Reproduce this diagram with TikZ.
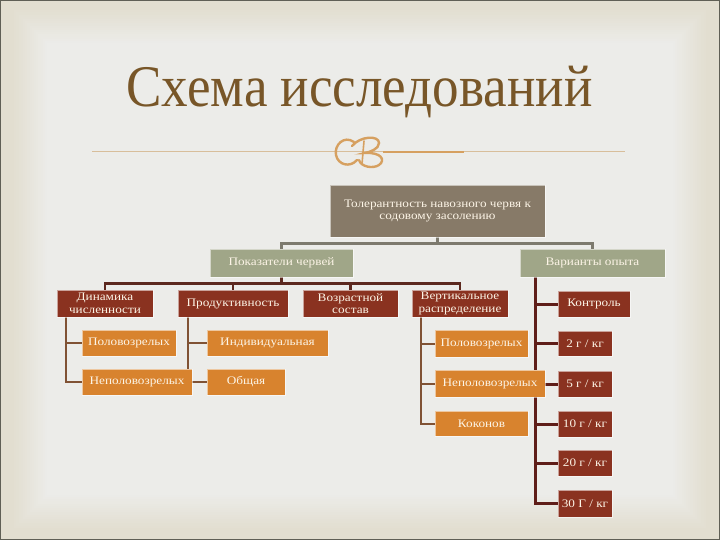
\documentclass[tikz,border=0pt]{standalone}
\usepackage{fontspec}
\usetikzlibrary{calc}
\setmainfont{Liberation Serif}
\newfontfamily\titlefont[FakeStretch=0.9]{Liberation Serif}
\newfontfamily\boxfont[FakeStretch=1.15]{Liberation Serif}
\definecolor{outerbg}{RGB}{226,222,208}
\definecolor{innerbg}{RGB}{236,236,233}
\definecolor{titlecol}{RGB}{120,86,40}
\definecolor{rulecol}{RGB}{216,190,155}
\definecolor{ornacol}{RGB}{214,160,96}
\definecolor{topcol}{RGB}{135,122,104}
\definecolor{sagecol}{RGB}{160,166,136}
\definecolor{redcol}{RGB}{138,50,32}
\definecolor{orcol}{RGB}{216,131,46}
\definecolor{txtcol}{RGB}{252,244,230}
\definecolor{graylink}{RGB}{125,122,110}
\definecolor{darklink}{RGB}{92,40,30}
\definecolor{brlink}{RGB}{128,82,52}
\definecolor{varlink}{RGB}{95,30,25}
\definecolor{framecol}{RGB}{95,95,85}
\pgfdeclarelayer{bgfill}
\pgfdeclarelayer{links}
\pgfsetlayers{bgfill,links,main}
\tikzset{
  box/.style={inner sep=0pt, align=center, text=txtcol,
    font=\boxfont\fontsize{11.5}{12.5}\selectfont,
    draw=white, draw opacity=0.55, line width=0.6pt},
  topbox/.style={box, fill=topcol},
  sagebox/.style={box, fill=sagecol},
  redbox/.style={box, fill=redcol},
  orbox/.style={box, fill=orcol},
  glink/.style={draw=graylink, line width=3pt},
  dlink/.style={draw=darklink, line width=2.5pt},
  blink/.style={draw=brlink, line width=2pt},
  vlink/.style={draw=varlink, line width=3pt},
}
\begin{document}
\begin{tikzpicture}[x=1pt,y=-1pt]
\useasboundingbox (0,0) rectangle (720,540);
\begin{pgfonlayer}{bgfill}
\fill[outerbg] (0,0) rectangle (720,540);
\foreach \i in {1,...,16}{
  \pgfmathsetmacro{\m}{100-\i*6.25}
  \pgfmathsetmacro{\d}{12+\i*2.2}
  \fill[outerbg!\m!innerbg] (\d,\d-4) rectangle (720-\d,540-\d+2);
}
\draw[framecol, line width=1.5pt] (0,0) rectangle (720,540);
\end{pgfonlayer}
% title
\node[anchor=base, text=titlecol, inner sep=0pt] (title) at (359.5,107)
  {\titlefont\fontsize{59}{60}\selectfont Схема исследований};
% rule and ornament
\draw[rulecol, line width=1pt] (92,152) -- (625,152);
\draw[ornacol, line width=2.5pt] (383,152) -- (464,152);
\draw[ornacol, line width=2.4pt, line cap=round]
  (354,142) .. controls (344,135) and (334,145) .. (336,155)
  .. controls (338,165) and (350,168) .. (357,160);
\draw[ornacol, line width=2.4pt, line cap=round]
  (352,146) .. controls (360,136) and (379,135) .. (379,143)
  .. controls (379,149) and (370,152) .. (365,153)
  .. controls (381,152) and (386,160) .. (379,165)
  .. controls (373,169) and (361,167) .. (359,160);
\draw[ornacol, line width=1.6pt, line cap=round] (364,141) -- (362,164);
% nodes
\node[topbox, minimum width=215, minimum height=52] (top) at (437.5,211)
    {Толерантность навозного червя к\\содовому засолению};
\node[sagebox, minimum width=143, minimum height=28] (pok) at (281.5,263) {Показатели червей};
\node[sagebox, minimum width=145, minimum height=28] (var) at (592.5,263) {Варианты опыта};
\node[redbox, minimum width=96, minimum height=27] (din) at (105,303.5) {Динамика\\численности};
\node[redbox, minimum width=110, minimum height=27] (prod) at (233,303.5) {Продуктивность};
\node[redbox, minimum width=95, minimum height=27] (voz) at (350.5,303.5) {Возрастной\\состав};
\node[redbox, minimum width=96, minimum height=27] (vert) at (460,303.5) {Вертикальное\\распределение};
\node[orbox, minimum width=94, minimum height=26] (pol1) at (129,343) {Половозрелых};
\node[orbox, minimum width=110, minimum height=26] (nep1) at (137,382) {Неполовозрелых};
\node[orbox, minimum width=121, minimum height=26] (ind) at (267.5,343) {Индивидуальная};
\node[orbox, minimum width=78, minimum height=26] (obsh) at (246,382) {Общая};
\node[orbox, minimum width=93, minimum height=27] (pol2) at (481.5,343.5) {Половозрелых};
\node[orbox, minimum width=110, minimum height=27] (nep2) at (490,383.5) {Неполовозрелых};
\node[orbox, minimum width=93, minimum height=25] (kok) at (481.5,423.5) {Коконов};
\node[redbox, minimum width=72, minimum height=26] (kon) at (594,304) {Контроль};
\node[redbox, minimum width=54, minimum height=25] (g2) at (585,343.5) {2 г / кг};
\node[redbox, minimum width=54, minimum height=26] (g5) at (585,384) {5 г / кг};
\node[redbox, minimum width=54, minimum height=26] (g10) at (585,424) {10 г / кг};
\node[redbox, minimum width=54, minimum height=26] (g20) at (585,463) {20 г / кг};
\node[redbox, minimum width=54, minimum height=27] (g30) at (585,503.5) {30 Г / кг};
% connectors (behind boxes)
\begin{pgfonlayer}{links}
\draw[glink] (top.south) -- ++(0,6) -| (pok.north);
\draw[glink] (top.south) -- ++(0,6) -| (var.north);
\draw[dlink] (pok.south) -- ++(0,6) -| (din.north);
\draw[dlink] (pok.south) -- ++(0,6) -| (prod.north);
\draw[dlink] (pok.south) -- ++(0,6) -| (voz.north);
\draw[dlink] (pok.south) -- ++(0,6) -| (vert.north);
\draw[blink] ($(din.south west)+(9,0)$) |- (pol1.west);
\draw[blink] ($(din.south west)+(9,0)$) |- (nep1.west);
\draw[blink] ($(prod.south west)+(10,0)$) |- (ind.west);
\draw[blink] ($(prod.south west)+(10,0)$) |- (obsh.west);
\draw[blink] ($(vert.south west)+(9,0)$) |- (pol2.west);
\draw[blink] ($(vert.south west)+(9,0)$) |- (nep2.west);
\draw[blink] ($(vert.south west)+(9,0)$) |- (kok.west);
\draw[vlink] ($(var.south west)+(16,0)$) |- (kon.west);
\draw[vlink] ($(var.south west)+(16,0)$) |- (g2.west);
\draw[vlink] ($(var.south west)+(16,0)$) |- (g5.west);
\draw[vlink] ($(var.south west)+(16,0)$) |- (g10.west);
\draw[vlink] ($(var.south west)+(16,0)$) |- (g20.west);
\draw[vlink] ($(var.south west)+(16,0)$) |- (g30.west);
\end{pgfonlayer}
\end{tikzpicture}
\end{document}
